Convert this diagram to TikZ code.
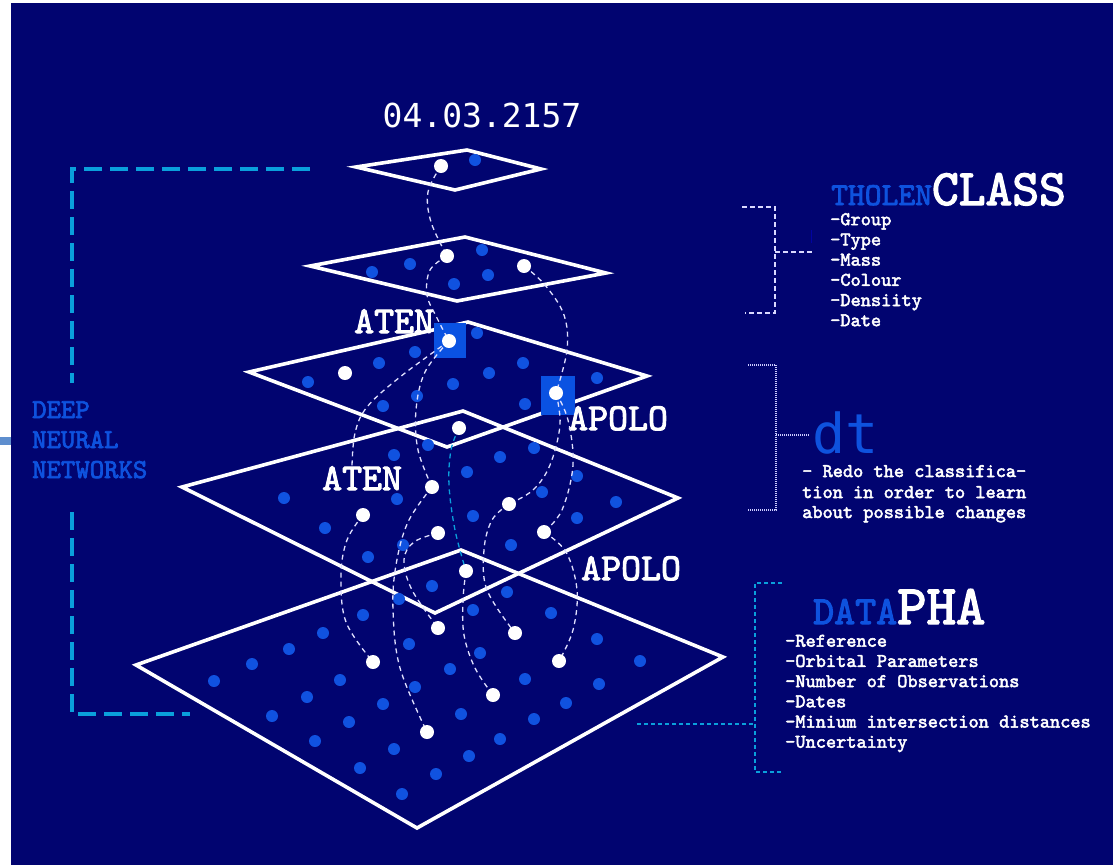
\documentclass[tikz,border=0pt]{standalone}
\usepackage{fontspec}
\newfontfamily\sansmono{DejaVu Sans Mono}
\newfontfamily\slab{lmmono10-regular.otf}[AutoFakeBold=2.6]
\definecolor{navybg}{RGB}{1,4,112}
\definecolor{dotblue}{RGB}{16,82,224}
\definecolor{txtblue}{RGB}{14,82,222}
\definecolor{sqblue}{RGB}{10,82,226}
\definecolor{cyanline}{RGB}{10,160,220}
\definecolor{edgebar}{RGB}{94,142,206}
\begin{document}
\begin{tikzpicture}[x=1pt,y=-1pt,
  layer/.style={draw=white, line width=3.6pt, line join=miter},
  link/.style={draw=white!88!blue, line width=1.3pt, dash pattern=on 5pt off 4pt},
  cyanlink/.style={draw=cyanline, line width=1.3pt, dash pattern=on 5pt off 4pt},
  bluedot/.style={fill=dotblue},
  whitedot/.style={fill=white},
  label/.style={inner sep=0pt, anchor=base west, text=white, font=\slab\bfseries\fontsize{38}{40}\selectfont},
  listtxt/.style={inner sep=0pt, anchor=base west, text=white, font=\slab\bfseries\fontsize{19.4}{21}\selectfont},
  dnntxt/.style={inner sep=0pt, anchor=base west, text=txtblue, font=\slab\bfseries\fontsize{27.4}{29}\selectfont},
  bigbracket/.style={draw=cyanline, line width=4pt, dash pattern=on 18pt off 8pt},
  thinbracket/.style={draw=white!85!blue, line width=1.3pt, dash pattern=on 5pt off 3pt},
  dotbracket/.style={draw=white!80!blue, line width=1.2pt, dash pattern=on 1pt off 1pt},
  cyanbracket/.style={draw=cyanline, line width=1.2pt, dash pattern=on 4pt off 3pt}]

\useasboundingbox (0,0) rectangle (1113,865);
\fill[white] (0,0) rectangle (1113,865);
\fill[navybg] (11,3) rectangle (1113,865);
\fill[edgebar] (0,437) rectangle (11,445);

% ---- stacked layers -------------------------------------------------
\draw[layer] (356,167) -- (467,150) -- (541,169) -- (455,190) -- cycle;
\draw[layer] (310,266) -- (465,237) -- (606,273) -- (457,301) -- cycle;
\draw[layer] (249,372) -- (468,322) -- (647,376) -- (447,447) -- cycle;
\draw[layer] (182,487) -- (463,411) -- (678,498) -- (435,613) -- cycle;
\draw[layer] (136,665) -- (461,550) -- (723,657) -- (417,828) -- cycle;

% ---- highlighted cells ---------------------------------------------
\fill[sqblue] (434,323) rectangle (466,358);
\fill[sqblue] (541,376) rectangle (575,415);

% ---- neuron dots (plain) -------------------------------------------
\foreach \x/\y in {475/160,
  372/272,410/264,482/250,488/275,454/284,
  308/382,379/363,415/352,477/333,417/396,383/406,453/384,489/373,523/363,525/404,597/378,
  428/445,394/455,534/448,500/457,467/472,397/499,284/498,325/528,473/516,542/492,577/476,
  616/502,577/518,511/545,403/545,368/557,
  432/586,399/599,507/592,363/615,473/610,551/613,323/633,597/639,289/649,409/644,480/653,
  252/664,640/661,214/681,340/680,450/669,525/679,599/684,415/687,307/697,383/704,566/703,
  272/716,461/714,534/719,349/722,315/741,394/749,500/739,469/756,360/768,436/774,402/794}
  \fill[bluedot] (\x,\y) circle (6pt);

% ---- active neurons -------------------------------------------------
\coordinate (t1) at (441,166);
\coordinate (s1) at (447,256);
\coordinate (s2) at (524,266);
\coordinate (a1) at (449,341);
\coordinate (p1) at (556,393);
\coordinate (r1) at (345,373);
\coordinate (q0) at (459,428);
\coordinate (q1) at (432,487);
\coordinate (q2) at (363,515);
\coordinate (q3) at (509,504);
\coordinate (q4) at (544,532);
\coordinate (q5) at (438,533);
\coordinate (u1) at (466,571);
\coordinate (u2) at (438,628);
\coordinate (u3) at (515,633);
\coordinate (u4) at (373,662);
\coordinate (u5) at (559,661);
\coordinate (u6) at (493,695);
\coordinate (u7) at (427,732);

% ---- labels ---------------------------------------------------------
\node[label] (aten1) at (354,333) {ATEN};
\node[label] (apolo1) at (568,430) {APOLO};
\node[label] (aten2) at (322,490) {ATEN};
\node[label] (apolo2) at (581,580) {APOLO};

% ---- dashed links between layers ------------------------------------
\draw[link] plot[smooth, tension=0.6] coordinates {(t1) (428,192) (431,222) (s1)};
\draw[link] plot[smooth, tension=0.6] coordinates {(s1) (430,270) (427,295) (437,318) (a1)};
\draw[link] plot[smooth, tension=0.6] coordinates {(s2) (545,285) (564,315) (567,350) (p1)};
\draw[link] plot[smooth, tension=0.6] coordinates {(a1) (400,377) (367,407) (355,433) (aten2.north -| 352,0)};
\draw[link] plot[smooth, tension=0.6] coordinates {(q2) (347,540) (341,575) (346,622) (u4)};
\draw[link] plot[smooth, tension=0.6] coordinates {(a1) (425,372) (416,410) (418,450) (q1)};
\draw[link] plot[smooth, tension=0.6] coordinates {(q1) (408,522) (396,565) (393,610) (400,668) (u7)};
\draw[link] plot[smooth, tension=0.6] coordinates {(q5) (414,542) (404,560) (412,590) (u2)};
\draw[cyanlink] plot[smooth, tension=0.6] coordinates {(q0) (451,450) (449,485) (455,530) (u1)};
\draw[link] plot[smooth, tension=0.6] coordinates {(u1) (463,600) (464,635) (475,668) (u6)};
\draw[link] plot[smooth, tension=0.6] coordinates {(p1) (560,425) (550,465) (533,490) (q3)};
\draw[link] plot[smooth, tension=0.6] coordinates {(q3) (492,520) (484,550) (487,590) (u3)};
\draw[link] plot[smooth, tension=0.6] coordinates {(p1) (568,420) (573,465) (562,510) (q4)};
\draw[link] plot[smooth, tension=0.6] coordinates {(q4) (566,552) (577,590) (573,630) (u5)};

\foreach \n in {t1,s1,s2,a1,p1,r1,q0,q1,q2,q3,q4,q5,u1,u2,u3,u4,u5,u6,u7}
  \fill[whitedot] (\n) circle (7pt);

% ---- title ----------------------------------------------------------
\node[anchor=base, inner sep=0pt, text=white, font=\sansmono\fontsize{33}{36}\selectfont] (date) at (482,127) {04.03.2157};

% ---- left grouping bracket ------------------------------------------
\node[dnntxt] (dnn1) at (32,418) {DEEP};
\node[dnntxt] (dnn2) at (32,448) {NEURAL};
\node[dnntxt] (dnn3) at (32,478) {NETWORKS};
\draw[bigbracket] (310,169) -- (72,169) -- (72,383);
\draw[bigbracket] (72,512) -- (72,714) -- (190,714);

% ---- Tholen class block ---------------------------------------------
\node[anchor=base west, inner sep=0pt, font=\slab\bfseries] (tholen) at (831,205)
  {{\fontsize{32}{34}\selectfont\color{txtblue}THOLEN}{\fontsize{51}{54}\selectfont\color{white}CLASS}};
\foreach \t [count=\i] in {-Group,-Type,-Mass,-Colour,-Densiity,-Date}
  \node[listtxt] (tc\i) at (830,{205+20.2*\i}) {\t};
\draw[thinbracket] (742,207) -- (775,207) -- (775,313) -- (745,313);
\draw[thinbracket] (775,252) -- (812,252);
\draw[draw=blue!35!navybg, line width=1pt] (811,230) -- (811,243);

% ---- dt block -------------------------------------------------------
\node[anchor=base west, inner sep=0pt, text=txtblue, font=\sansmono\fontsize{55}{58}\selectfont] (dt) at (812,453) {dt};
\node[listtxt] (dt1) at (802,477) {- Redo the classifica-};
\node[listtxt] (dt2) at (802,498) {tion in order to learn};
\node[listtxt] (dt3) at (802,518) {about possible changes};
\draw[dotbracket] (748,365) -- (776,365) -- (776,510) -- (747,510);
\draw[dotbracket] (776,435) -- (810,435);

% ---- PHA data block -------------------------------------------------
\node[anchor=base west, inner sep=0pt, font=\slab\bfseries] (pha) at (813,624)
  {{\fontsize{40}{42}\selectfont\color{txtblue}DATA}{\fontsize{56}{60}\selectfont\color{white}PHA}};
\foreach \t [count=\i] in {-Reference,-Orbital Parameters,-Number of Observations,-Dates,-Minium intersection distances,-Uncertainty}
  \node[listtxt] (ph\i) at (785,{626.5+20.2*\i}) {\t};
\draw[cyanbracket] (782,583) -- (755,583) -- (755,772) -- (783,772);
\draw[cyanbracket] (637,724) -- (755,724);
\end{tikzpicture}
\end{document}
